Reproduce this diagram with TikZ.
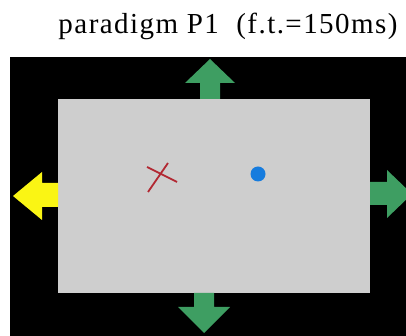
\documentclass[tikz,border=0pt]{standalone}
\usepackage{fontspec}
\setmainfont{Liberation Serif}
\usetikzlibrary{positioning}
\definecolor{arrgreen}{RGB}{62,158,98}
\definecolor{arryellow}{RGB}{250,245,20}
\definecolor{screengray}{RGB}{206,206,206}
\definecolor{dotblue}{RGB}{22,124,222}
\definecolor{crossred}{RGB}{178,40,50}

\begin{document}
\begin{tikzpicture}[x=1pt,y=1pt, every node/.style={font=\fontsize{29}{32}\selectfont\addfontfeature{LetterSpace=5}},
  arrowfill/.style={fill=#1, draw=none}]
\useasboundingbox (0,0) rectangle (406,336);
\clip (0,0) rectangle (406,336);
\node[anchor=base, inner sep=0pt] (title) at (228,302){paradigm P1\ \ (f.t.=150ms)};
\fill[black] (10,0) rectangle (406,279);
\fill[screengray] (58,43) rectangle (370,237);
\fill[arrowfill=arrgreen] (200,237)--(200,253)--(185,253)--(210,277)--(235,253)--(220,253)--(220,237)--cycle;
\fill[arrowfill=arrgreen] (194,43)--(194,29)--(178,29)--(204,3)--(230,29)--(214,29)--(214,43)--cycle;
\fill[arrowfill=arryellow] (58,129)--(42,129)--(42,116)--(13,140)--(42,164)--(42,153)--(58,153)--cycle;
\fill[arrowfill=arrgreen] (370,131)--(387,131)--(387,118)--(412,142)--(387,166)--(387,154)--(370,154)--cycle;
\draw[crossred, line width=1.8pt] (148,144)--(168,173) (147,169)--(177,154);
\fill[dotblue] (258,162) circle(7.5);
\end{tikzpicture}
\end{document}
